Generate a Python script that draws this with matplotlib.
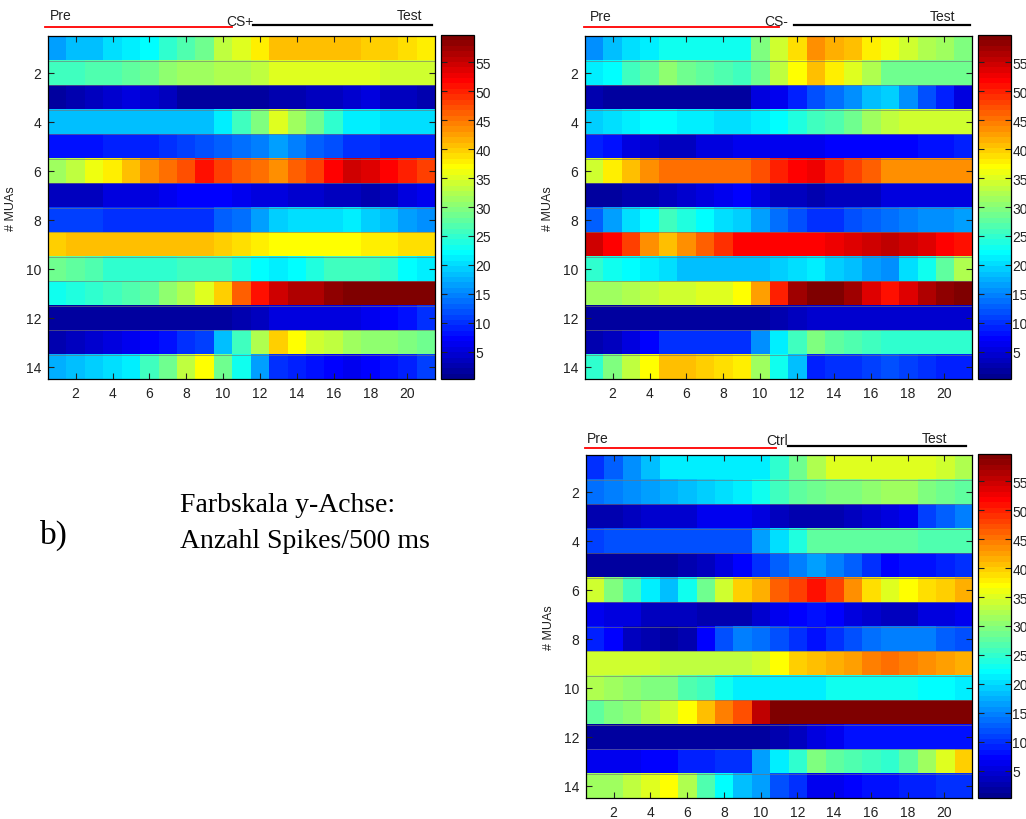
import numpy as np
import matplotlib
matplotlib.use("Agg")
import matplotlib.pyplot as plt
from matplotlib.colors import ListedColormap

# ---------------------------------------------------------------------------
# Data: spike counts per 500 ms, 14 MUAs (rows) x 21 time bins (columns)
# ---------------------------------------------------------------------------
cs_plus = [
    [16.5, 18, 18.5, 20, 21, 22.5, 24.5, 26.5, 28.5, 33, 35.5, 37.5, 40.5, 40.5, 40.5, 40.5, 40.5, 40, 39.5, 39, 38],
    [25.5, 26, 26.5, 27, 27.5, 28.5, 30.5, 31, 31.5, 32, 32.5, 33.5, 35, 35, 35, 35, 35, 35, 34, 34, 34],
    [2, 3, 4, 4.5, 5.5, 4.5, 4, 2, 2, 2, 2, 2, 3, 3, 3.5, 4, 4.5, 5, 4, 3.5, 3],
    [18.5, 18.5, 18.5, 18.5, 18.5, 18.5, 18.5, 18.5, 18.5, 21, 25.5, 30, 35, 31, 28.5, 24.5, 21.5, 21, 20.5, 20.5, 20.5],
    [8, 8, 8, 9.5, 9.5, 9.5, 10, 11, 11.5, 13, 13.5, 15, 16.5, 15, 13, 11.5, 10.5, 10, 9.5, 9, 9],
    [31, 33, 36, 38, 40.5, 43.5, 45.5, 47.5, 51, 48, 46.5, 45, 43.5, 46, 48.5, 52, 55, 54, 52, 50, 48.5],
    [4, 4, 4, 5, 5, 5, 6, 7, 7.5, 7, 6, 5.5, 5, 4.5, 4.5, 4, 3.5, 3, 4, 5, 6],
    [11, 11, 11, 10.5, 10.5, 10.5, 10, 10, 10, 13, 14, 16.5, 19.5, 20, 20, 20, 21, 19.5, 18.5, 17, 16],
    [40, 41, 41, 41, 41, 41, 41, 41, 41, 39.5, 39, 38, 37, 37, 37, 37, 37, 37.5, 38, 39, 38.5],
    [28.5, 27.5, 26.5, 24.5, 24.5, 24.5, 25, 26, 26, 25.5, 24, 22, 21.5, 22, 24, 25.5, 26, 25.5, 24.5, 22.5, 21.5],
    [23.5, 24, 25, 26, 26.5, 28, 30.5, 32.5, 35, 40, 46, 51, 55, 56.5, 56, 58, 59, 59, 59, 59, 59],
    [1.5, 1.5, 1.5, 1.5, 1.5, 1.5, 1.5, 1.5, 1.5, 2, 2.5, 4, 5, 5, 5, 5, 5.5, 6, 7.5, 8.5, 10],
    [2.5, 3.5, 4.5, 5.5, 6, 7, 8.5, 10, 11, 18.5, 25.5, 32, 40, 37, 34.5, 33, 31, 30.5, 30.5, 30, 29],
    [17.5, 18, 19.5, 20.5, 21.5, 26, 29, 33, 37, 29, 23.5, 17, 10.5, 9, 8, 7.5, 6, 7, 8, 9.5, 11],
]

cs_minus = [
    [16, 18.5, 20, 21.5, 23.5, 23.5, 23.5, 23.5, 23.5, 29.5, 34.5, 39, 43, 41.5, 40.5, 38, 36, 34, 32, 31, 29.5],
    [21, 22.5, 26, 27.5, 30.5, 28.5, 27.5, 27, 26, 29, 33.5, 37, 40.5, 38, 35, 32.5, 29, 29, 29, 29, 29],
    [2.5, 1.5, 1.5, 1.5, 1.5, 1.5, 1.5, 1.5, 1.5, 5, 6, 9.5, 12, 13.5, 16, 18, 19, 16, 12, 9.5, 5.5],
    [19.5, 20.5, 21.5, 22, 22.5, 21.5, 21, 20.5, 20, 21, 22.5, 24, 25.5, 27, 29, 31, 33, 34.5, 34.5, 34.5, 34.5],
    [9, 8, 5.5, 4.5, 3.5, 4, 5, 5.5, 6, 6.5, 6.5, 6.5, 6.5, 7, 7, 7, 7, 7, 8, 8.5, 9.5],
    [34.5, 38, 40.5, 43, 45.5, 45.5, 45.5, 45.5, 45.5, 47.5, 49.5, 52, 52.5, 50, 48, 46, 43.5, 43.5, 43.5, 43.5, 43.5],
    [2, 1.5, 2.5, 3, 4, 4.5, 5.5, 6.5, 7, 5.5, 4, 3.5, 3, 3.5, 3.5, 3.5, 5, 5, 5, 5, 5],
    [13, 16.5, 20, 22.5, 26, 24, 22, 20.5, 19, 17, 14, 12, 10, 10.5, 11.5, 12.5, 13.5, 14.5, 15.5, 16, 16.5],
    [55, 52, 48, 43.5, 40.5, 43, 46, 49, 52, 52, 52, 52, 52, 53, 53.5, 54.5, 55.5, 54.5, 53.5, 52, 51],
    [24.5, 23.5, 22, 21, 20.5, 18.5, 18.5, 18.5, 18.5, 18, 19, 20, 21, 19.5, 18.5, 17, 16, 20, 23.5, 27.5, 32],
    [31, 31.5, 32.5, 33, 34.5, 34.5, 35, 35.5, 36.5, 42.5, 49.5, 57, 59, 59, 57, 54, 51, 53.5, 56.5, 58, 59],
    [1.5, 1.5, 1.5, 1.5, 1.5, 1.5, 1.5, 1.5, 1.5, 2, 2.5, 3.5, 4.5, 4.5, 4.5, 4.5, 4.5, 4.5, 4.5, 4.5, 4.5],
    [2.5, 3.5, 5, 7.5, 10.5, 10.5, 10.5, 10.5, 10.5, 16, 21, 25.5, 29.5, 28, 27, 26, 25, 25, 25, 25, 25],
    [25, 29.5, 33, 37, 41, 40.5, 40, 39, 38, 31, 23.5, 18, 9.5, 10, 10, 11, 11.5, 11, 10.5, 9.5, 9],
]

ctrl = [
    [10, 13, 16, 18.5, 21, 21, 21, 21, 21, 21, 24.5, 29, 32.5, 35.5, 35.5, 35.5, 35.5, 35.5, 35.5, 34, 32.5],
    [13.5, 15, 15.5, 16.5, 17.5, 18.5, 19.5, 20.5, 21.5, 23.5, 26, 28, 29, 29.5, 30, 30.5, 31, 31.5, 29.5, 28.5, 27.5],
    [2.5, 3, 3.5, 4.5, 4.5, 4.5, 6, 6, 6, 5, 4, 3, 2.5, 3, 4, 4.5, 5, 6.5, 11, 12.5, 14.5],
    [11, 12, 12, 12, 12, 12, 12, 12, 12, 16.5, 20.5, 24, 28, 28, 28, 28, 28, 28, 27, 27, 27],
    [2, 2, 2, 2, 2, 3, 4, 5, 7, 10, 13, 15, 17, 15, 12.5, 10, 7.5, 8.5, 8.5, 9, 10],
    [34.5, 30, 25.5, 21, 18.5, 23, 29, 34, 39.5, 42, 46, 48.5, 51, 48, 43, 39, 35, 37, 39, 39.5, 42],
    [6, 5, 5, 4, 3.5, 3.5, 3, 2.5, 3, 4.5, 6, 7, 8, 7, 5.5, 4.5, 3.5, 4, 5, 5, 6.5],
    [9, 7, 4, 3, 1.5, 3, 7, 12, 15, 14, 12, 10.5, 8, 10.5, 11.5, 13.5, 14.5, 14.5, 14.5, 13, 12],
    [34.5, 34.5, 34.5, 34.5, 33.5, 33.5, 33.5, 33.5, 33.5, 34.5, 36.5, 39.5, 41, 41.5, 42.5, 44, 45.5, 44.5, 43.5, 42.5, 41.5],
    [32, 31, 30.5, 29.5, 29.5, 27, 25.5, 23, 21.5, 21.5, 21.5, 21.5, 21.5, 23, 23, 23, 23.5, 23, 22.5, 22.5, 21.5],
    [27.5, 29.5, 30.5, 32, 34.5, 37, 41, 44, 47.5, 55.5, 59, 59, 59, 59, 59, 59, 59, 59, 59, 59, 59],
    [1.5, 1.5, 1.5, 1.5, 1.5, 1.5, 1.5, 1.5, 1.5, 2, 3, 4, 5, 6, 8, 8, 8, 8, 8, 8, 8],
    [6.5, 6.5, 6.5, 7.5, 7.5, 9, 9, 10, 10, 17, 21, 25, 29.5, 28, 27, 26, 24.5, 27.5, 31.5, 35, 40],
    [31, 31.5, 33, 35, 36.5, 32.5, 27, 22, 18, 17, 12, 10, 6.5, 6.5, 7, 8, 8, 9, 9, 10, 10.5],
]

x_ticks = [2, 4, 6, 8, 10, 12, 14, 16, 18, 20]
y_ticks = [2, 4, 6, 8, 10, 12, 14]
cbar_ticks = [5, 10, 15, 20, 25, 30, 35, 40, 45, 50, 55]
stim_labels = ["CS+", "CS-", "Ctrl"]

# ---------------------------------------------------------------------------
# Layout (pixel boxes of the 1026 x 820 figure)
# ---------------------------------------------------------------------------
W, H = 1026, 820
VMIN, VMAX = 0.3, 59.7
SANS = ["Liberation Sans", "DejaVu Sans"]

plt.rcParams["font.family"] = SANS


def matlab_jet(m=64):
    """MATLAB's jet(m) colour table (slightly different from mpl's 'jet')."""
    n = int(np.ceil(m / 4))
    u = np.concatenate([np.arange(1, n + 1) / n, np.ones(n - 1), np.arange(n, 0, -1) / n])
    g = int(np.ceil(n / 2)) - (1 if m % 4 == 1 else 0) + np.arange(1, len(u) + 1)
    r = g + n
    b = g - n
    cols = np.zeros((m, 3))
    for chan, idx in ((0, r), (1, g), (2, b)):
        ok = (idx >= 1) & (idx <= m)
        cols[idx[ok] - 1, chan] = u[ok]
    return ListedColormap(cols)


CMAP = matlab_jet(64)


def px_axes(fig, x0, y0, x1, y1):
    return fig.add_axes([x0 / W, 1 - y1 / H, (x1 - x0) / W, (y1 - y0) / H])


def draw_panel(fig, data, box, cbox, stim, bars):
    ax = px_axes(fig, *box)
    arr = np.array(data)
    nrow, ncol = arr.shape
    im = ax.imshow(arr, cmap=CMAP, vmin=VMIN, vmax=VMAX, aspect="auto",
                   interpolation="nearest",
                   extent=(0.5, ncol + 0.5, nrow + 0.5, 0.5))
    ax.hlines(np.arange(1.5, nrow), 0.5, ncol + 0.5, color="0.45",
              lw=0.7, alpha=0.6)
    ax.set_xticks(x_ticks)
    ax.set_yticks(y_ticks)
    ax.tick_params(direction="in", top=True, right=True, length=4,
                   width=0.8, labelsize=10, colors="#222222", pad=5)
    for sp in ax.spines.values():
        sp.set_linewidth(0.9)
    ax.set_ylabel("# MUAs", fontsize=9, color="#222222", labelpad=6)

    # Pre / stimulus / Test markers above the panel
    (pre0, pre1, red_y), (test0, test1, blk_y), (pre_x, stim_x, test_x, txt_y, stim_y) = bars
    tr = ax.get_xaxis_transform()
    ax.plot([pre0, pre1], [red_y, red_y], color="red", lw=1.3,
            transform=tr, clip_on=False)
    ax.plot([test0, test1], [blk_y, blk_y], color="black", lw=1.6,
            transform=tr, clip_on=False)
    ax.text(pre_x, txt_y, "Pre", transform=tr, fontsize=10, color="#222222",
            ha="left", va="center")
    ax.text(stim_x, stim_y, stim, transform=tr, fontsize=10, color="#222222",
            ha="center", va="center")
    ax.text(test_x, txt_y, "Test", transform=tr, fontsize=10, color="#222222",
            ha="right", va="center")

    # keep the image filling the frame
    ax.set_xlim(0.5, ncol + 0.5)
    ax.set_ylim(nrow + 0.5, 0.5)

    cax = px_axes(fig, *cbox)
    cb = fig.colorbar(im, cax=cax, ticks=cbar_ticks)
    cb.outline.set_linewidth(0.9)
    cax.tick_params(direction="in", left=True, right=True, length=4,
                    width=0.8, labelsize=10, colors="#222222", pad=1)
    return ax


fig = plt.figure(figsize=(W / 100, H / 100), dpi=100, facecolor="white")

draw_panel(fig, cs_plus, (48, 37, 435, 380), (441, 36, 474, 380), stim_labels[0],
           ((0.35, 10.5, 1.026), (11.6, 21.35, 1.031), (0.6, 10.9, 20.8, 1.06, 1.045)))
draw_panel(fig, cs_minus, (585, 37, 972, 380), (978, 36, 1011, 380), stim_labels[1],
           ((0.45, 11.05, 1.027), (11.85, 21.4, 1.031), (0.75, 10.85, 20.6, 1.058, 1.043)))
draw_panel(fig, ctrl, (586, 456, 972, 799), (978, 455, 1011, 799), stim_labels[2],
           ((0.45, 10.85, 1.02), (11.5, 21.2, 1.027), (0.55, 10.9, 20.15, 1.05, 1.043)))

serif = ["Liberation Serif", "DejaVu Serif"]
fig.text(40 / W, 1 - 535 / H, "b)", family=serif, fontsize=24, ha="left", va="center")
fig.text(180 / W, 1 - 505 / H, "Farbskala y-Achse:", family=serif, fontsize=20,
         ha="left", va="center")
fig.text(180 / W, 1 - 541 / H, "Anzahl Spikes/500 ms", family=serif, fontsize=20,
         ha="left", va="center")

fig.savefig("out.png", dpi=100)
